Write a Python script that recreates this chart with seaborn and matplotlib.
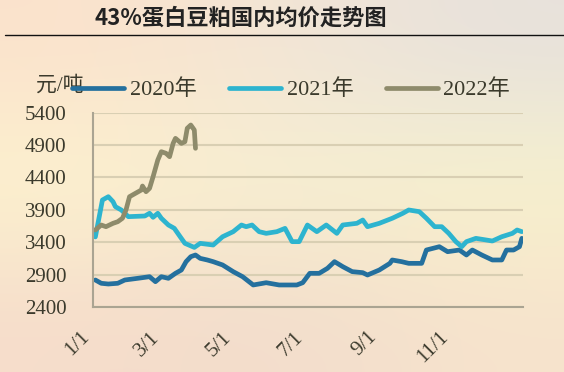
import numpy as np
import pandas as pd
import matplotlib
matplotlib.use("Agg")
import matplotlib.pyplot as plt
import seaborn as sns
from matplotlib.colors import to_rgb

# ---------------- data ----------------
days_2020 = [2, 7, 13, 21, 27, 38, 48, 53, 58, 64, 70, 75, 79, 83, 87, 91, 97, 102, 110, 119,
             127, 136, 147, 158, 173, 178, 184, 192, 199, 205, 212, 220, 229, 233, 243, 252,
             254, 262, 268, 279, 283, 294, 301, 311, 317, 322, 330, 339, 347, 351, 357, 362, 364]
price_2020 = [2817, 2766, 2755, 2766, 2817, 2843, 2868, 2791, 2868, 2843, 2920, 2971, 3100, 3177,
              3203, 3151, 3126, 3100, 3049, 2946, 2868, 2740, 2775, 2740, 2740, 2775, 2920, 2920,
              2997, 3100, 3023, 2946, 2930, 2894, 2971, 3074, 3126, 3100, 3074, 3074, 3280, 3331,
              3254, 3280, 3203, 3280, 3203, 3126, 3126, 3280, 3280, 3331, 3460]

days_2021 = [2, 8, 13, 17, 19, 24, 30, 44, 48, 51, 55, 58, 64, 69, 74, 78, 86, 91, 102, 110,
             119, 126, 130, 135, 141, 147, 156, 163, 169, 175, 182, 190, 198, 207, 212, 224,
             229, 233, 243, 254, 263, 268, 277, 283, 290, 296, 302, 308, 313, 317, 325, 334,
             339, 347, 356, 360, 364]
price_2021 = [3482, 4052, 4103, 4026, 3949, 3898, 3795, 3805, 3847, 3785, 3847, 3770, 3666, 3615,
              3485, 3383, 3320, 3383, 3357, 3485, 3563, 3666, 3640, 3666, 3563, 3537, 3563, 3614,
              3409, 3409, 3666, 3563, 3666, 3537, 3666, 3692, 3743, 3640, 3692, 3770, 3847, 3898,
              3872, 3770, 3640, 3640, 3537, 3409, 3331, 3409, 3460, 3434, 3419, 3485, 3537, 3589,
              3563]

days_2022 = [2, 7, 11, 17, 21, 25, 28, 31, 36, 41, 42, 45, 48, 51, 55, 58, 62, 65, 68, 70, 75,
             78, 80, 83, 86, 87]
price_2022 = [3589, 3666, 3640, 3692, 3717, 3770, 3898, 4103, 4155, 4206, 4268, 4180, 4232, 4412,
              4670, 4798, 4773, 4721, 4926, 5004, 4926, 4952, 5159, 5210, 5133, 4850]

series_names = ["2020年", "2021年", "2022年"]
series_colors = ["#24709e", "#2db4cf", "#8e8b6b"]

tick_days = [0, 60, 121, 182, 244, 305, 365]
tick_labels = ["1/1", "3/1", "5/1", "7/1", "9/1", "11/1", ""]
y_ticks = [2400, 2900, 3400, 3900, 4400, 4900, 5400]

title = "43%蛋白豆粕国内均价走势图"
unit = "元/吨"

df = pd.concat([
    pd.DataFrame({"day": days_2020, "price": price_2020, "year": series_names[0]}),
    pd.DataFrame({"day": days_2021, "price": price_2021, "year": series_names[1]}),
    pd.DataFrame({"day": days_2022, "price": price_2022, "year": series_names[2]}),
], ignore_index=True)

# ---------------- style ----------------
sns.set_style("white")
plt.rcParams["font.family"] = ["Liberation Serif", "Noto Sans CJK SC"]

W, H = 564, 372
fig = plt.figure(figsize=(W / 100, H / 100), dpi=100)

# gradient background
bg = fig.add_axes([0, 0, 1, 1], zorder=-10)
bg.axis("off")
grid_cols = [["#fbe2cc", "#f3e6d6", "#e7e1dc"],
             ["#fdf5cf", "#f7f0d2", "#f8f4cc"],
             ["#f6dccb", "#f1dccc", "#f7e3cc"]]
arr = np.array([[to_rgb(c) for c in row] for row in grid_cols])
bg.imshow(arr, extent=(0, 1, 0, 1), aspect="auto", interpolation="bicubic")
bg.set_xlim(0, 1)
bg.set_ylim(0, 1)

ax = fig.add_axes([93 / W, 1 - 307 / H, (523 - 93) / W, (307 - 112.7) / H])
ax.patch.set_alpha(0)

sns.lineplot(data=df, x="day", y="price", hue="year", hue_order=series_names,
             palette=series_colors, estimator=None, sort=True, lw=3.4, ax=ax,
             solid_capstyle="round", solid_joinstyle="round")

ax.set_xlim(0, 365)
ax.set_ylim(2400, 5400)
ax.set_yticks(y_ticks)
ax.set_xticks(tick_days)
ax.set_xticklabels(tick_labels, rotation=45, ha="right")
ax.set_xlabel("")
ax.set_ylabel("")
ax.yaxis.grid(True, color="#d9cfb3", lw=1.5)
ax.set_axisbelow(True)
for s in ["top", "right"]:
    ax.spines[s].set_visible(False)
for s in ["left", "bottom"]:
    ax.spines[s].set_color("#aaa492")
    ax.spines[s].set_linewidth(1.5)
ax.tick_params(axis="both", length=5, width=1.3, color="#aaa492",
               labelsize=15, labelcolor="#3b3a2c")
ax.tick_params(axis="y", pad=14)
ax.tick_params(axis="x", pad=10)

handles, labels = ax.get_legend_handles_labels()
ax.get_legend().remove()
leg = fig.legend(handles, labels, loc="center left", bbox_to_anchor=(72 / W, 1 - 90 / H),
                 ncol=3, frameon=False, fontsize=16, handlelength=2.35, handletextpad=0.25,
                 columnspacing=1.45, borderpad=0, borderaxespad=0)
for t in leg.get_texts():
    t.set_color("#3b3a2c")
for h in leg.get_lines():
    h.set_linewidth(3.4)

fig.text(36 / W, 1 - 86 / H, unit, fontsize=15, color="#3b3a2c", ha="left", va="center")

fig.text(241 / W, 1 - 18 / H, title, fontsize=16, fontweight="bold", color="#222222",
         ha="center", va="center", family=["Noto Sans CJK SC", "DejaVu Sans"])
fig.add_artist(plt.Line2D([5 / W, 1], [1 - 35 / H, 1 - 35 / H], color="#111111", lw=1.0))

fig.savefig("out.png", dpi=100)
